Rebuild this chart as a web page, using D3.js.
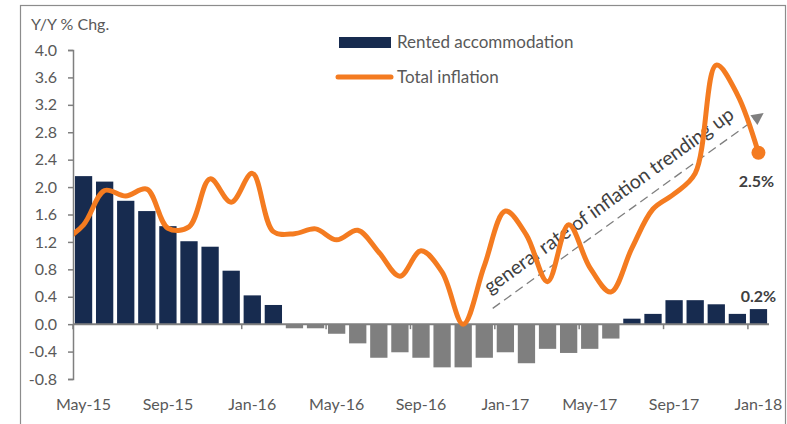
<!DOCTYPE html>
<html>
<head>
<meta charset="utf-8">
<script src="https://cdn.jsdelivr.net/npm/d3@7"></script>
<style>
  body { margin: 0; background: #fff; }
  text { font-family: Lato, "Open Sans", sans-serif; }
</style>
</head>
<body>
<div id="chart"></div>
<script>
// Month categories
var months = ["May-15","Jun-15","Jul-15","Aug-15","Sep-15","Oct-15","Nov-15","Dec-15",
    "Jan-16","Feb-16","Mar-16","Apr-16","May-16","Jun-16","Jul-16","Aug-16","Sep-16","Oct-16","Nov-16","Dec-16",
    "Jan-17","Feb-17","Mar-17","Apr-17","May-17","Jun-17","Jul-17","Aug-17","Sep-17","Oct-17","Nov-17","Dec-17",
    "Jan-18"];

// Rented accommodation, Y/Y % chg
var rented = [2.16, 2.08, 1.80, 1.65, 1.43, 1.21, 1.13, 0.78, 0.42, 0.28, -0.06, -0.06, -0.14, -0.28,
    -0.49, -0.41, -0.49, -0.63, -0.63, -0.49, -0.41, -0.57, -0.36, -0.42, -0.36, -0.21,
    0.08, 0.15, 0.35, 0.35, 0.29, 0.15, 0.22];

// Total inflation (lead value is Apr-15, runs in from the left edge)
var inflationLead = 1.2;
var inflation = [1.45, 1.95, 1.87, 1.97, 1.40, 1.42, 2.12, 1.78, 2.2, 1.35, 1.32, 1.39, 1.23, 1.37,
    1.05, 0.70, 1.07, 0.76, 0.0, 0.85, 1.65, 1.3, 0.62, 1.45, 0.83, 0.47, 1.11, 1.68,
    1.9, 2.2, 3.78, 3.35, 2.5];

var yTicks = [-0.8, -0.4, 0.0, 0.4, 0.8, 1.2, 1.6, 2.0, 2.4, 2.8, 3.2, 3.6, 4.0];

// trend arrow, in (category index, value)
var trendFrom = [19.4, 0.23];
var trendTo = [32.2, 3.07];

var navy = "#172b4f", grey = "#7f7f7f", orange = "#f47b20", textCol = "#595959";

var svgWidth = 787, svgHeight = 424;
var margin = {top: 50, left: 73, right: 18, bottom: 45};

var svg = d3.select("#chart").append("svg")
    .attr("width", svgWidth)
    .attr("height", svgHeight);

// outer frame
svg.append("rect")
    .attr("x", 20.5).attr("y", 5.5)
    .attr("width", 765).attr("height", 440)
    .attr("fill", "none")
    .attr("stroke", "#8c8c8c")
    .attr("stroke-width", 1.2);

var x = d3.scaleBand()
    .domain(months)
    .range([margin.left, 769])
    .paddingInner(0.18)
    .paddingOuter(0.09);
var step = x.step();
var cx = function(i) { return margin.left + step * (i + 0.5); };

var y = d3.scaleLinear()
    .domain([-0.8, 4.0])
    .range([379, 50]);

// Bars
svg.selectAll("rect.bar")
    .data(rented)
    .enter()
    .append("rect")
    .attr("class", "bar")
    .attr("x", (d, i) => x(months[i]))
    .attr("y", d => y(Math.max(0, d)))
    .attr("width", x.bandwidth())
    .attr("height", d => Math.abs(y(d) - y(0)))
    .attr("fill", (d, i) => d < 0 ? grey : navy);

// Y axis
var yAxis = svg.append("g")
    .attr("transform", "translate(" + margin.left + ",0)")
    .call(d3.axisLeft(y).tickValues(yTicks).tickSize(5).tickPadding(11));
yAxis.select(".domain").attr("stroke", grey).attr("stroke-width", 1.5);
yAxis.selectAll(".tick line").attr("stroke", grey).attr("stroke-width", 1.5);
yAxis.selectAll(".tick text")
    .attr("fill", textCol)
    .style("font-size", "16px")
    .text(d => d < 0 ? "-" + Math.abs(d).toFixed(1) : d.toFixed(1));

// X axis at zero
svg.append("line")
    .attr("x1", margin.left).attr("x2", 769)
    .attr("y1", y(0)).attr("y2", y(0))
    .attr("stroke", grey).attr("stroke-width", 2);
svg.selectAll("line.xtick")
    .data(d3.range(0, months.length + 1, 4))
    .enter()
    .append("line")
    .attr("class", "xtick")
    .attr("x1", i => margin.left + step * i)
    .attr("x2", i => margin.left + step * i)
    .attr("y1", y(0)).attr("y2", y(0) + 5)
    .attr("stroke", grey).attr("stroke-width", 1.5);
svg.selectAll("text.xlab")
    .data(months.filter((m, i) => i % 4 === 0))
    .enter()
    .append("text")
    .attr("class", "xlab")
    .attr("x", d => x(d) + x.bandwidth() / 2)
    .attr("y", 410)
    .attr("text-anchor", "middle")
    .attr("fill", textCol)
    .style("font-size", "16px")
    .text(d => d);

// axis title
svg.append("text")
    .attr("x", 31).attr("y", 30)
    .attr("fill", textCol)
    .style("font-size", "16px")
    .text("Y/Y % Chg.");

// Trend arrow
svg.append("defs").append("marker")
    .attr("id", "arrow")
    .attr("viewBox", "0 0 10 10")
    .attr("refX", 9).attr("refY", 5)
    .attr("markerWidth", 14).attr("markerHeight", 12)
    .attr("markerUnits", "userSpaceOnUse")
    .attr("orient", "auto")
    .append("path")
    .attr("d", "M0,0 L10,5 L0,10 z")
    .attr("fill", grey);
var ax1 = cx(trendFrom[0]), ay1 = y(trendFrom[1]);
var ax2 = cx(trendTo[0]), ay2 = y(trendTo[1]);
svg.append("line")
    .attr("x1", ax1).attr("y1", ay1)
    .attr("x2", ax2).attr("y2", ay2)
    .attr("stroke", grey)
    .attr("stroke-width", 1.3)
    .attr("stroke-dasharray", "9,5")
    .attr("marker-end", "url(#arrow)");

var ang = Math.atan2(ay2 - ay1, ax2 - ax1) * 180 / Math.PI;
svg.append("text")
    .attr("transform", "translate(" + ax1 + "," + ay1 + ") rotate(" + ang + ") translate(6,-13)")
    .attr("fill", "#404040")
    .style("font-size", "19.5px")
    .text("general rate of inflation trending up");

// Total inflation line
svg.append("clipPath").attr("id", "plotclip")
    .append("rect")
    .attr("x", margin.left + 1).attr("y", 0)
    .attr("width", 760).attr("height", svgHeight);

var linePts = [[cx(-1), y(inflationLead)]].concat(inflation.map((v, i) => [cx(i), y(v)]));
var line = d3.line().curve(d3.curveCatmullRom.alpha(0.5));
svg.append("path")
    .attr("d", line(linePts))
    .attr("fill", "none")
    .attr("stroke", orange)
    .attr("stroke-width", 5)
    .attr("stroke-linecap", "round")
    .attr("clip-path", "url(#plotclip)");

var last = inflation.length - 1;
svg.append("circle")
    .attr("cx", cx(last)).attr("cy", y(inflation[last]))
    .attr("r", 7)
    .attr("fill", orange);

// value labels
svg.append("text")
    .attr("x", cx(last) - 2).attr("y", y(inflation[last]) + 34)
    .attr("text-anchor", "middle")
    .attr("fill", "#404040")
    .style("font-size", "16px").style("font-weight", "bold")
    .text(inflation[last].toFixed(1) + "%");
svg.append("text")
    .attr("x", cx(rented.length - 1)).attr("y", y(rented[rented.length - 1]) - 7)
    .attr("text-anchor", "middle")
    .attr("fill", "#404040")
    .style("font-size", "16px").style("font-weight", "bold")
    .text(rented[rented.length - 1].toFixed(1) + "%");

// Legend
var lg = svg.append("g");
lg.append("rect")
    .attr("x", 339).attr("y", 37)
    .attr("width", 52).attr("height", 11)
    .attr("fill", navy);
lg.append("text")
    .attr("x", 397).attr("y", 48)
    .attr("fill", textCol)
    .style("font-size", "17px")
    .text("Rented accommodation");
lg.append("line")
    .attr("x1", 338).attr("x2", 391)
    .attr("y1", 77).attr("y2", 77)
    .attr("stroke", orange)
    .attr("stroke-width", 5)
    .attr("stroke-linecap", "round");
lg.append("text")
    .attr("x", 397).attr("y", 83)
    .attr("fill", textCol)
    .style("font-size", "17px")
    .text("Total inflation");
</script>
</body>
</html>
